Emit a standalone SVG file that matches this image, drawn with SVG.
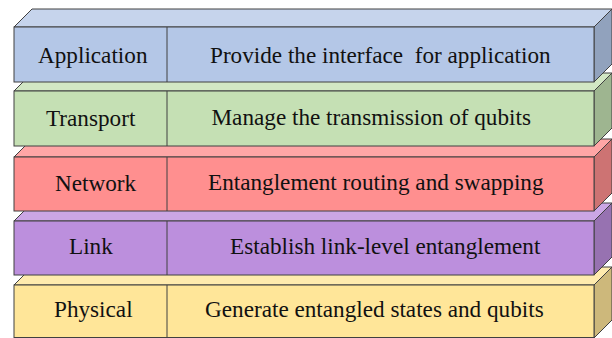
<svg xmlns="http://www.w3.org/2000/svg" width="612" height="338" viewBox="0 0 612 338">
<style>
.e{stroke:#404040;stroke-width:1;stroke-linejoin:miter}
.t{font-family:"Liberation Serif","Times New Roman",serif;font-size:23.2px;fill:#111}
.app .f{fill:#B4C7E7}.app .tp{fill:#C6D4EC}.app .sd{fill:#91A2BD}
.trn .f{fill:#C5E0B4}.trn .tp{fill:#D2E7C4}.trn .sd{fill:#9EB590}
.net .f{fill:#FF8F8F}.net .tp{fill:#FFA6A6}.net .sd{fill:#CD7373}
.lnk .f{fill:#BC8FDD}.lnk .tp{fill:#CBA6E5}.lnk .sd{fill:#9772B1}
.phy .f{fill:#FFE699}.phy .tp{fill:#FFEBAE}.phy .sd{fill:#CDB87B}
</style>
<rect width="612" height="338" fill="#ffffff"/>
<g id="physical" class="phy">
<polygon class="e tp" points="14,285 32,267 612,267 594,285"/>
<polygon class="e sd" points="594,285 612,267 612,320 594,338"/>
<rect class="e f" x="14" y="285" width="580" height="52.5"/>
<line class="e" x1="167" y1="285" x2="167" y2="338"/>
<text class="t" x="54" y="317">Physical</text>
<text class="t" x="205" y="317">Generate entangled states and qubits</text>
</g>
<g id="link" class="lnk">
<polygon class="e tp" points="14,221 32,203 612,203 594,221"/>
<polygon class="e sd" points="594,221 612,203 612,257 594,275"/>
<rect class="e f" x="14" y="221" width="580" height="54"/>
<line class="e" x1="167" y1="221" x2="167" y2="275"/>
<text class="t" x="69" y="254">Link</text>
<text class="t" x="230" y="253.5">Establish link-level entanglement</text>
</g>
<g id="network" class="net">
<polygon class="e tp" points="14,157 32,139 612,139 594,157"/>
<polygon class="e sd" points="594,157 612,139 612,193 594,211"/>
<rect class="e f" x="14" y="157" width="580" height="54"/>
<line class="e" x1="167" y1="157" x2="167" y2="211"/>
<text class="t" x="55" y="190.5">Network</text>
<text class="t" x="208" y="190">Entanglement routing and swapping</text>
</g>
<g id="transport" class="trn">
<polygon class="e tp" points="14,91 32,73 612,73 594,91"/>
<polygon class="e sd" points="594,91 612,73 612,128 594,146"/>
<rect class="e f" x="14" y="91" width="580" height="55"/>
<line class="e" x1="167" y1="91" x2="167" y2="146"/>
<text class="t" x="46" y="125.5">Transport</text>
<text class="t" x="211.5" y="125">Manage the transmission of qubits</text>
</g>
<g id="application" class="app">
<polygon class="e tp" points="14,27 32,9 612,9 594,27"/>
<polygon class="e sd" points="594,27 612,9 612,64 594,82"/>
<rect class="e f" x="14" y="27" width="580" height="55"/>
<line class="e" x1="167" y1="27" x2="167" y2="82"/>
<text class="t" x="38" y="62.5">Application</text>
<text class="t" x="210" y="62.5" style="white-space:pre" xml:space="preserve">Provide the interface  for application</text>
</g>
<g id="connectors"/>
</svg>
